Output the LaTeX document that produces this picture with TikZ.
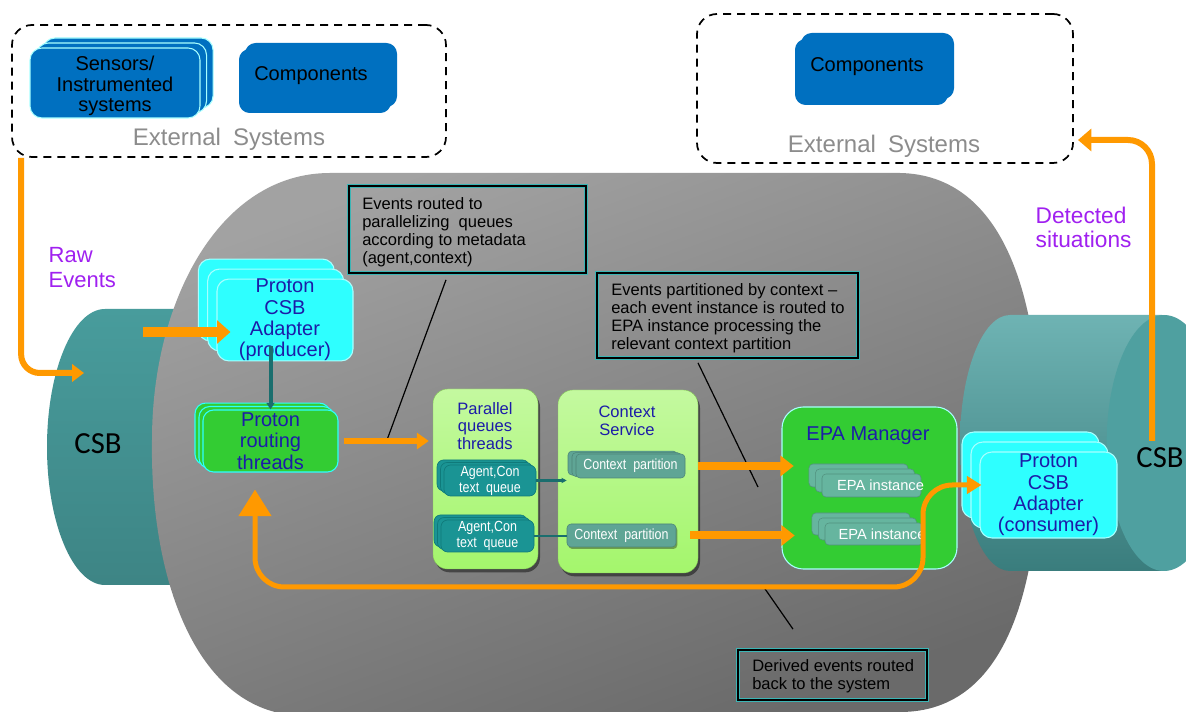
\documentclass[tikz,border=0pt]{standalone}
\usepackage{fontspec}
\setmainfont{Liberation Sans}
\newfontfamily\calfont{Carlito}
\newfontfamily\narrowfont[FakeStretch=0.85]{Liberation Sans}
\usetikzlibrary{arrows.meta,shadows,calc}
\definecolor{compblue}{HTML}{0070C0}
\definecolor{cyanfill}{HTML}{2EFFFF}
\definecolor{cyanedge}{HTML}{A8FFFF}
\definecolor{routgreen}{HTML}{33CC33}
\definecolor{lgreen}{HTML}{A4F66C}
\definecolor{qteal}{HTML}{1A9494}
\definecolor{qedge}{HTML}{0F7A7A}
\definecolor{partfill}{HTML}{5FA595}
\definecolor{epafill}{HTML}{66B59F}
\definecolor{txtblue}{HTML}{1C1CA8}
\definecolor{orng}{HTML}{FF9900}
\definecolor{purp}{HTML}{A020F0}
\definecolor{cylteal}{HTML}{489C9C}
\definecolor{cyllight}{HTML}{78B9B9}
\definecolor{coedge}{HTML}{3AB5B5}
\definecolor{grayA}{HTML}{A2A2A2}
\definecolor{grayB}{HTML}{6A6A6A}
\definecolor{extgray}{HTML}{8C8C8C}
\definecolor{linkteal}{HTML}{1A6E6E}
\newcommand\fsz[2]{\fontsize{#1}{#2}\selectfont}
\newcommand\lowered[2]{\raisebox{-#1}[\height][\depth]{\begin{tabular}{@{}c@{}}#2\end{tabular}}}
\begin{document}
\begin{tikzpicture}[x=0.75pt,y=-0.75pt,
  sz/.style 2 args={minimum width=#1*0.75pt, minimum height=#2*0.75pt},
  fbox/.style={inner sep=0pt, align=center},
  dashbox/.style={fbox, draw=black, line width=1.3pt, dash pattern=on 6pt off 4.5pt, rounded corners=15pt},
  exttext/.style={text=extgray, font=\fsz{18pt}{20pt}},
  blacktext/.style={text=black, font=\fsz{15pt}{15.4pt}, align=center},
  bluetitle/.style={text=txtblue, font=\fsz{15pt}{16pt}, align=center},
  smalltitle/.style={text=txtblue, font=\fsz{12.4pt}{13.2pt}, align=center},
  purptext/.style={text=purp, anchor=west, align=left},
  calltext/.style={inner sep=0pt, anchor=west, align=left, font=\fsz{12.4pt}{13.5pt}},
  callout/.style={fbox, draw=black, line width=1.3pt, preaction={draw=coedge, line width=3.6pt}},
  lbox/.style={fbox, rounded corners=11pt, top color=lgreen!65!white, bottom color=lgreen, draw=lgreen!80!black, line width=0.3pt,
    drop shadow={shadow xshift=1.5pt, shadow yshift=-2.5pt, opacity=.45, fill=black}},
  orline/.style={draw=orng},
  leader/.style={draw=black, line width=0.9pt},
  tealconn/.style={draw=linkteal, line width=2pt},
  csbtext/.style={font=\calfont\fsz{23pt}{26pt}, text=black},
  qtext/.style={text=white, font=\narrowfont\fsz{11pt}{12pt}},
]
\useasboundingbox (0,0) rectangle (1186,712);
\fill[white] (0,0) rectangle (1186,712);

% ---------- external systems (left)
\node[dashbox, sz={434}{132}] (ext1) at (229,91) {};
\node[fbox, rounded corners=9pt, fill=compblue, draw=cyanedge, line width=0.8pt,
  copy shadow={shadow xshift=9.8pt, shadow yshift=7.5pt, fill=compblue, draw=cyanedge},
  copy shadow={shadow xshift=4.9pt, shadow yshift=3.75pt, fill=compblue, draw=cyanedge},
  blacktext, sz={170}{70}] (sens) at (115,83) {\lowered{3pt}{Sensors/\\Instrumented\\systems}};
\node[fbox, rounded corners=8pt, fill=compblue,
  copy shadow={shadow xshift=-4.5pt, shadow yshift=-4.5pt, fill=compblue, draw=none},
  sz={152}{64}] (comp1) at (321,75) {};
\node[blacktext] (comp1t) at (311,76) {Components};
\node[exttext] (ext1t) at (229,139) {External\hspace{0.5em}Systems};

% ---------- external systems (right)
\node[dashbox, sz={376}{149}] (ext2) at (885,88.5) {};
\node[fbox, rounded corners=8pt, fill=compblue,
  copy shadow={shadow xshift=-4.5pt, shadow yshift=-4.5pt, fill=compblue, draw=none},
  sz={153}{66}] (comp2) at (877.5,66) {};
\node[blacktext] (comp2t) at (867,67) {Components};
\node[exttext] (ext2t) at (884,146) {External\hspace{0.5em}Systems};

% ---------- labels
\node[purptext, font=\fsz{16.5pt}{18.75pt}] (raw) at (44,268) {Raw\\Events};
\node[purptext, font=\fsz{17pt}{18pt}] (det) at (1031,227) {Detected\\situations};

% ---------- left CSB cylinder
\shade[top color=cylteal, middle color=cyllight, bottom color=cylteal!85!black]
  (330,309) -- (105,309) arc[start angle=90, end angle=270, x radius=43.5pt, y radius=103.5pt] -- (330,585) -- cycle;

% ---------- gray engine body
\shade[top color=grayA, bottom color=grayB, shading angle=20]
  (330,173) -- (900,173) .. controls (1005,175) and (1040,300) .. (1040,440)
  .. controls (1040,580) and (1010,712) .. (900,712) -- (275,712)
  .. controls (190,690) and (150,570) .. (152,440)
  .. controls (152,300) and (220,173) .. (330,173) -- cycle;

% ---------- right CSB cylinder
\shade[top color=cyllight!80!cylteal, middle color=cylteal, bottom color=cylteal!80!black]
  (1162,315) -- (1010,315) arc[start angle=90, end angle=270, x radius=37.5pt, y radius=96pt] -- (1162,571) -- cycle;
\fill[cylteal!96!white] (1164,443) ellipse [x radius=43pt, y radius=96pt];

\node[csbtext] (csbL) at (98,444) {CSB};
\node[csbtext] (csbR) at (1160,458) {CSB};

% ---------- producer adapter and routing
\node[fbox, rounded corners=9pt, fill=cyanfill, draw=cyanedge, line width=0.8pt,
  copy shadow={shadow xshift=-14pt, shadow yshift=15pt, fill=cyanfill, draw=cyanedge},
  copy shadow={shadow xshift=-7pt, shadow yshift=7.5pt, fill=cyanfill, draw=cyanedge},
  bluetitle, sz={136}{80}] (prod) at (285,320) {Proton\\CSB\\Adapter\\(producer)};
\node[fbox, rounded corners=8pt, fill=routgreen, draw=cyanfill, line width=0.8pt,
  copy shadow={shadow xshift=-6pt, shadow yshift=5.2pt, fill=routgreen, draw=cyanfill},
  copy shadow={shadow xshift=-3pt, shadow yshift=2.6pt, fill=routgreen, draw=cyanfill},
  bluetitle, sz={135}{62}] (rout) at (270.5,441) {Proton\\routing\\threads};

% ---------- parallel queues
\node[lbox, sz={105}{180}] (pq) at (485.5,479) {};
\node[smalltitle] (pqt) at (485,426) {Parallel\\queues\\threads};
\node[fbox, rounded corners=5pt, fill=qteal, draw=qedge, line width=0.5pt,
  copy shadow={shadow xshift=-5.2pt, shadow yshift=3.8pt, fill=qteal, draw=qedge},
  copy shadow={shadow xshift=-2.6pt, shadow yshift=1.9pt, fill=qteal, draw=qedge},
  qtext, sz={92}{31}] (q1) at (490,480.5) {Agent,Con\\text\ \ queue};
\node[fbox, rounded corners=5pt, fill=qteal, draw=qedge, line width=0.5pt,
  copy shadow={shadow xshift=-5.2pt, shadow yshift=3.8pt, fill=qteal, draw=qedge},
  copy shadow={shadow xshift=-2.6pt, shadow yshift=1.9pt, fill=qteal, draw=qedge},
  qtext, sz={93}{32}] (q2) at (487.5,536) {Agent,Con\\text\ \ queue};

% ---------- context service
\node[lbox, sz={140}{183}] (cs) at (628,481.5) {};
\node[smalltitle] (cst) at (627,421) {Context\\Service};
\node[fbox, rounded corners=3pt, fill=partfill, draw=partfill!80!black, line width=0.4pt,
  copy shadow={shadow xshift=-6pt, shadow yshift=2.2pt, fill=partfill, draw=partfill!80!black},
  copy shadow={shadow xshift=-3pt, shadow yshift=1.1pt, fill=partfill, draw=partfill!80!black},
  qtext, sz={109}{24}] (cp1) at (630.5,466) {Context\ \ partition};
\node[fbox, rounded corners=3pt, fill=partfill, draw=partfill!80!black, line width=0.4pt,
  drop shadow={shadow xshift=1pt, shadow yshift=-1.5pt, opacity=.35, fill=black},
  qtext, sz={109}{23}] (cp2) at (621.5,535.5) {Context\ \ partition};

% ---------- EPA manager
\node[fbox, rounded corners=16pt, fill=routgreen, draw=cyanedge, line width=0.8pt,
  sz={175}{162}] (epam) at (869.5,488) {};
\node[text=txtblue, font=\fsz{15pt}{16pt}] (epamt) at (868,436) {EPA Manager};
\node[fbox, rounded corners=3pt, fill=epafill, draw=epafill!80!black, line width=0.4pt,
  copy shadow={shadow xshift=-9.8pt, shadow yshift=7.5pt, fill=epafill, draw=epafill!80!black},
  copy shadow={shadow xshift=-4.9pt, shadow yshift=3.75pt, fill=epafill, draw=epafill!80!black},
  sz={99}{23},
  label={[text=white, font=\fsz{11pt}{12pt}, xshift=6.75pt]center:EPA instance}] (epa1) at (871.5,485.5) {};
\node[fbox, rounded corners=3pt, fill=epafill, draw=epafill!80!black, line width=0.4pt,
  copy shadow={shadow xshift=-9.8pt, shadow yshift=7.5pt, fill=epafill, draw=epafill!80!black},
  copy shadow={shadow xshift=-4.9pt, shadow yshift=3.75pt, fill=epafill, draw=epafill!80!black},
  sz={98}{22},
  label={[text=white, font=\fsz{11pt}{12pt}, xshift=6pt]center:EPA instance}] (epa2) at (874,534) {};

% ---------- consumer adapter
\node[fbox, rounded corners=9pt, fill=cyanfill, draw=cyanedge, line width=0.8pt,
  copy shadow={shadow xshift=-13.5pt, shadow yshift=15pt, fill=cyanfill, draw=cyanedge},
  copy shadow={shadow xshift=-6.75pt, shadow yshift=7.5pt, fill=cyanfill, draw=cyanedge},
  bluetitle, sz={137}{86}] (cons) at (1048.5,495) {Proton\\CSB\\Adapter\\(consumer)};

% ---------- callouts
\node[callout, sz={237}{87}] (co1) at (467.5,229.5) {};
\node[calltext] (co1t) at (362,232.5) {Events routed to\\parallelizing\ \ queues\\according to metadata\\(agent,context)};
\node[callout, sz={261}{85}] (co2) at (727.5,315.5) {};
\node[calltext] (co2t) at (611,318.5) {Events partitioned by context –\\each event instance is routed to\\EPA instance processing the\\relevant context partition};
\node[callout, sz={189}{50}] (co3) at (832.5,675) {};
\node[calltext] (co3t) at (752,676) {Derived events routed\\back to the system};

\coordinate (l1b) at (387,440);
\draw[leader] ($(co1.south)+(-21.5,6)$) -- (l1b);
\coordinate (l2b) at (758,487);
\draw[leader] ($(co2.south)+(-29.5,4)$) -- (l2b);
\coordinate (l3a) at (763,586);
\draw[leader] (l3a) -- ($(co3.north)+(-39.5,-20)$);

% ---------- teal connectors
\coordinate (pr1) at (prod.south -| rout.north);
\draw[tealconn, line width=3pt, -{Triangle[length=5pt,width=6pt]}] ($(pr1)+(0,-15)$) -- (rout.north);
\coordinate (qc1) at (q1.east -| cp1.west);
\draw[tealconn, -{Stealth[length=4pt,width=4pt]}] (q1.east) -- ($(qc1)+(-9,0)$);
\draw[tealconn] (q2.east) -- (q2.east -| cp2.west);

% ---------- orange flows
\coordinate (rawA) at ($(ext1.south west)+(10,0)$);
\coordinate (rawB) at (84,373);
\draw[orline, line width=4.5pt, rounded corners=14pt, -{Triangle[length=9pt,width=13pt]}] (rawA) |- (rawB);

\coordinate (detA) at (1152,441);
\coordinate (detB) at (1078,140);
\draw[orline, line width=4.5pt, rounded corners=18pt, -{Triangle[length=10pt,width=16.5pt]}] (detA) |- (detB);

\coordinate (pA) at (143,332);
\coordinate (pB) at ($(prod.west)+(14,12)$);
\draw[orline, line width=7.5pt, -{Triangle[length=10pt,width=17pt]}] (pA) -- (pB);

\coordinate (rq) at (rout.east -| pq.west);
\draw[orline, line width=4.5pt, -{Triangle[length=9pt,width=12pt]}] ($(rout.east)+(5,0)$) -- ($(rq)+(-4,0)$);

\coordinate (c1) at (cp1.east -| epa1.west);
\draw[orline, line width=6pt, -{Triangle[length=10pt,width=15pt]}] ($(cp1.east)+(13,0)$) -- ($(c1)+(-28,0)$);
\coordinate (c2) at (cp2.east -| epa2.west);
\draw[orline, line width=6pt, -{Triangle[length=10pt,width=15pt]}] ($(cp2.east)+(14,0)$) -- ($(c2)+(-30,0)$);

\coordinate (fbA) at ($(rout.south)+(-15.5,17)$);
\coordinate (fbB) at ($(cons.west)+(2,-10)$);
\draw[orline, line width=3.75pt, rounded corners=22pt,
  {Triangle[length=20pt,width=24pt]}-{Triangle[length=11pt,width=13pt]}]
  (fbA) -- (255,587) -- (923,587) -- (923,485) -- (fbB);
\end{tikzpicture}
\end{document}
